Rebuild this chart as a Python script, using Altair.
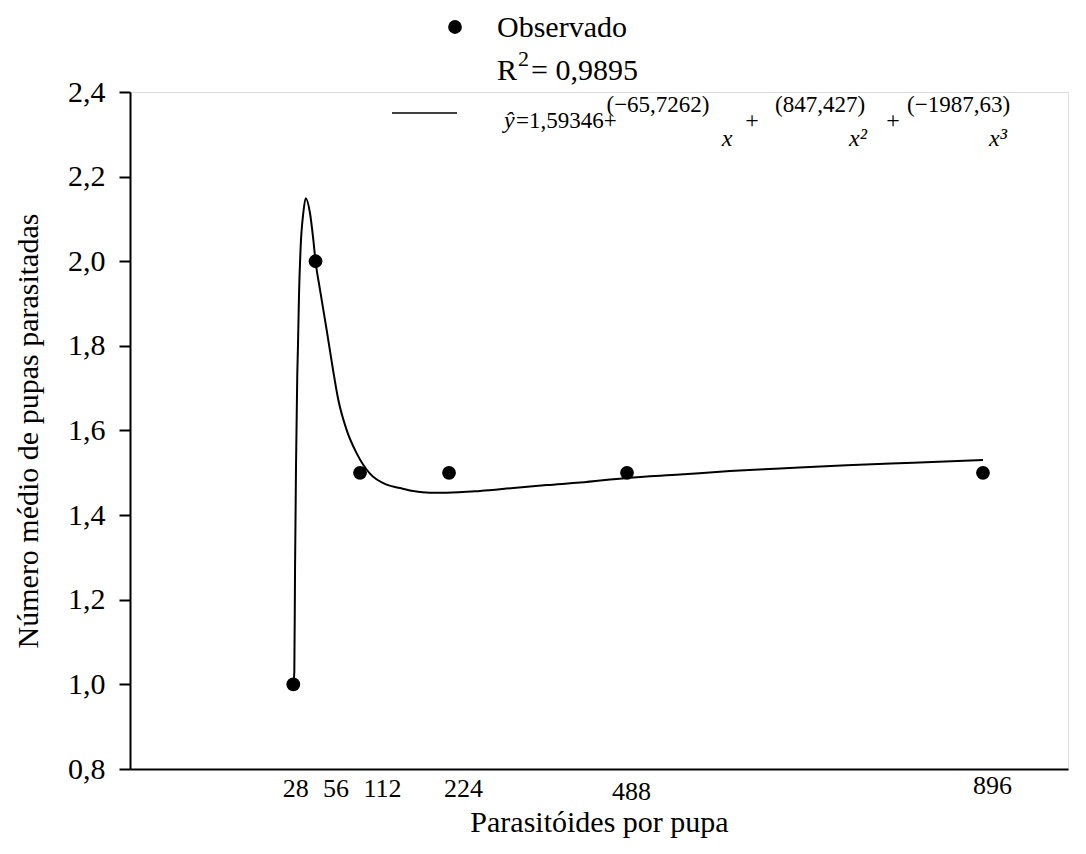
import altair as alt
import pandas as pd

# Observed points
obs_x = [28, 56, 112, 224, 448, 896]
obs_y = [1.0, 2.0, 1.5, 1.5, 1.5, 1.5]

# Fitted curve
fit_x = [28, 29.3, 30.2, 31.4, 33.0, 33.9, 35.2, 37.3, 40.6, 43.6, 49.0, 53.2, 56,
         61.6, 70.0, 77.6, 84.7, 95.2, 107.8, 124.5, 145.5, 162.3, 179, 200, 221,
         263, 305, 347, 389, 447.6, 514.7, 577.6, 640.6, 724.5, 808.3, 896]
fit_y = [1.00, 1.03, 1.27, 1.51, 1.73, 1.80, 1.92, 2.035, 2.114, 2.149, 2.114, 2.051, 2.0,
         1.933, 1.838, 1.748, 1.672, 1.601, 1.546, 1.498, 1.472, 1.464, 1.457, 1.453, 1.453,
         1.457, 1.464, 1.471, 1.477, 1.488, 1.496, 1.504, 1.510, 1.518, 1.524, 1.530]

x_ticks = [28, 56, 112, 224, 448, 896]
y_ticks = [0.8, 1.0, 1.2, 1.4, 1.6, 1.8, 2.0, 2.2, 2.4]

legend_obs = "Observado"
r2_label = ["R", "2", "= 0,9895"]
eq_parts = ["ŷ", "=1,59346+", "(−65,7262)", "(847,427)", "(−1987,63)", "+", "x", "x²", "x³"]

FONT = "Liberation Serif"

obs = pd.DataFrame({"x": obs_x, "y": obs_y})
fit = pd.DataFrame({"x": fit_x, "y": fit_y})

xscale = alt.Scale(domain=[-177.5, 1003], nice=False, zero=False)
yscale = alt.Scale(domain=[0.8, 2.4], nice=False, zero=False)

xaxis = alt.Axis(
    values=x_ticks,
    labelExpr="datum.value == 448 ? '488' : datum.label",
    ticks=False,
    grid=False,
    domainColor="black", domainWidth=2,
    labelFont=FONT, labelFontSize=26, labelColor="black",
    labelPadding={"condition": [{"test": "datum.value == 448", "value": 9},
                                {"test": "datum.value == 896", "value": 3}], "value": 6},
    labelOffset={"condition": [
        {"test": "datum.value == 28", "value": 2},
        {"test": "datum.value == 56", "value": 20},
        {"test": "datum.value == 112", "value": 22},
        {"test": "datum.value == 224", "value": 14},
        {"test": "datum.value == 448", "value": 4},
        {"test": "datum.value == 896", "value": 9}], "value": 0},
    title="Parasitóides por pupa",
    titleFont=FONT, titleFontSize=30, titleFontWeight="normal", titleColor="black",
    titleY=53, titleBaseline="middle",
)
yaxis = alt.Axis(
    values=y_ticks,
    labelExpr="replace(format(datum.value, '.1f'), '.', ',')",
    grid=False,
    domainColor="black", domainWidth=2,
    tickColor="black", tickWidth=2, tickSize=11,
    labelFont=FONT, labelFontSize=30, labelColor="black", labelPadding=14,
    title="Número médio de pupas parasitadas",
    titleFont=FONT, titleFontSize=30, titleFontWeight="normal", titleColor="black",
    titleX=-102, titleBaseline="middle",
)

line = alt.Chart(fit).mark_line(color="black", strokeWidth=2, interpolate="monotone").encode(
    x=alt.X("x:Q", scale=xscale, axis=xaxis),
    y=alt.Y("y:Q", scale=yscale, axis=yaxis),
)
points = alt.Chart(obs).mark_circle(color="black", opacity=1, size=190).encode(
    x=alt.X("x:Q", scale=xscale),
    y=alt.Y("y:Q", scale=yscale),
)

one = pd.DataFrame({"k": [0]})

def txt(text, px, py, size=28, align="left", style="normal", baseline="alphabetic"):
    return alt.Chart(one).mark_text(
        text=text, font=FONT, fontSize=size, align=align, baseline=baseline,
        fontStyle=style, color="black"
    ).encode(x=alt.value(px), y=alt.value(py))

leg_dot = alt.Chart(one).mark_circle(color="black", opacity=1, size=190).encode(
    x=alt.value(325), y=alt.value(-65))
leg_line = alt.Chart(one).mark_rule(color="black", strokeWidth=1.5).encode(
    x=alt.value(262), x2=alt.value(327), y=alt.value(21))

annotations = [
    txt(legend_obs, 367, -55, 30),
    txt(r2_label[0], 367, -12, 30),
    txt(r2_label[1], 388, -26, 22),
    txt(r2_label[2], 401, -12, 30),
    txt(eq_parts[0], 374, 36, 24, style="italic"),
    txt(eq_parts[1], 386, 36, 23),
    txt(eq_parts[2], 528, 20, 23, align="center"),
    txt(eq_parts[5], 622, 36, 24, align="center"),
    txt(eq_parts[3], 690, 20, 23, align="center"),
    txt(eq_parts[5], 763, 36, 24, align="center"),
    txt(eq_parts[4], 777, 20, 23),
    txt(eq_parts[6], 597, 54, 24, align="center", style="italic"),
    txt(eq_parts[7], 728, 54, 24, align="center", style="italic"),
    txt(eq_parts[8], 868, 54, 24, align="center", style="italic"),
]

chart = alt.layer(line, points, leg_dot, leg_line, *annotations).properties(
    width=938, height=677,
    autosize=alt.AutoSizeParams(type="none"),
    padding={"left": 122, "top": 84, "right": 10, "bottom": 70},
).configure_view(stroke=None).configure(background="white", font=FONT)

chart.save("out.html", embed_options={"renderer": "svg", "actions": False})
